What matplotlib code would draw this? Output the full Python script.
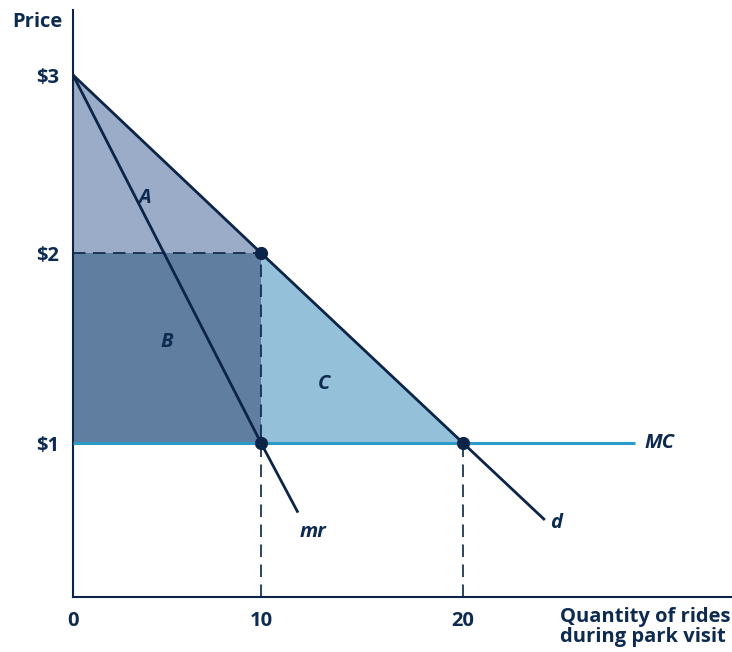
import matplotlib

matplotlib.use("Agg")
import numpy as np
import matplotlib.pyplot as plt

# data
quantity_ticks = [0, 10, 20]
price_ticks = [1, 2, 3]
price_labels = ["$1", "$2", "$3"]

demand_q = [0, 10, 20, 24]
demand_p = [3, 2, 1, 0.6]
mr_q = [0, 10, 11.8]
mr_p = [3, 1, 0.64]
mc_q = [0, 28.5]
mc_p = [1, 1]

area_a_q = [0, 0, 10]
area_a_p = [3, 2, 2]
area_b_q = [0, 10, 10, 0]
area_b_p = [2, 2, 1, 1]
area_c_q = [10, 10, 20]
area_c_p = [2, 1, 1]

dots_q = [10, 10, 20]
dots_p = [2, 1, 1]

NAVY = "#0b2447"
TEXT = "#0d2a50"
FONT = "Open Sans"
FS = 14.5

# the drawing is not evenly spaced, so use a piecewise linear scale
x_knots = np.array([0.0, 10.0, 20.0])
x_pix = np.array([73.0, 261.0, 463.0])
y_knots = np.array([1.0, 2.0, 3.0])
y_pix = np.array([209.0, 399.0, 577.0])


def piecewise(knots, pix):
    lo_slope = (pix[1] - pix[0]) / (knots[1] - knots[0])
    hi_slope = (pix[-1] - pix[-2]) / (knots[-1] - knots[-2])

    def forward(v):
        v = np.asarray(v, dtype=float)
        out = np.interp(v, knots, pix)
        out = np.where(v < knots[0], pix[0] + (v - knots[0]) * lo_slope, out)
        out = np.where(v > knots[-1], pix[-1] + (v - knots[-1]) * hi_slope, out)
        return out

    def inverse(p):
        p = np.asarray(p, dtype=float)
        out = np.interp(p, pix, knots)
        out = np.where(p < pix[0], knots[0] + (p - pix[0]) / lo_slope, out)
        out = np.where(p > pix[-1], knots[-1] + (p - pix[-1]) / hi_slope, out)
        return out

    return forward, inverse


W, H = 732, 652
fig = plt.figure(figsize=(W / 100, H / 100), dpi=100)
left, right, bottom, top = 73, 731, H - 597, H - 10
ax = fig.add_axes([left / W, bottom / H, (right - left) / W, (top - bottom) / H])

ax.set_xscale("function", functions=piecewise(x_knots, x_pix))
ax.set_yscale("function", functions=piecewise(y_knots, y_pix))
fx_inv = piecewise(x_knots, x_pix)[1]
fy_inv = piecewise(y_knots, y_pix)[1]
ax.set_xlim(0, float(fx_inv(right)))
ax.set_ylim(float(fy_inv(bottom)), float(fy_inv(top)))

# shaded areas
ax.fill(area_a_q, area_a_p, color="#9aacc7", lw=0, zorder=1)
ax.fill(area_b_q, area_b_p, color="#5f7ea0", lw=0, zorder=1)
ax.fill(area_c_q, area_c_p, color="#94c1d9", lw=0, zorder=1)

# dashed guides
dash = (0, (7.5, 4.5))
ax.plot([0, 10], [2, 2], color=NAVY, lw=1.2, linestyle=dash, zorder=2)
ax.plot([10, 10], [ax.get_ylim()[0], 2], color=NAVY, lw=1.2, linestyle=dash, zorder=2)
ax.plot([20, 20], [ax.get_ylim()[0], 1], color=NAVY, lw=1.2, linestyle=dash, zorder=2)

# curves
ax.plot(mc_q, mc_p, color="#2b9cc8", lw=2.2, zorder=3, solid_capstyle="butt")
ax.plot(demand_q, demand_p, color=NAVY, lw=2.0, zorder=4)
ax.plot(mr_q, mr_p, color=NAVY, lw=2.0, zorder=4)
ax.plot(dots_q, dots_p, "o", color=NAVY, ms=8.5, zorder=5)

# labels inside the chart
lab = dict(color=TEXT, fontsize=FS, fontweight="bold", style="italic", family=FONT)
ax.text(3.83, 2.31, "A", ha="center", va="center", **lab)
ax.text(5.0, 1.53, "B", ha="center", va="center", **lab)
ax.text(13.1, 1.31, "C", ha="center", va="center", **lab)
ax.text(29.0, 1.0, "MC", ha="left", va="center", **lab)
ax.text(12.56, 0.53, "mr", ha="center", va="center", **lab)
ax.text(24.6, 0.58, "d", ha="center", va="center", **lab)

# axes
for side in ["top", "right"]:
    ax.spines[side].set_visible(False)
for side in ["left", "bottom"]:
    ax.spines[side].set_color(NAVY)
    ax.spines[side].set_linewidth(1.5)

ax.set_xticks(quantity_ticks)
ax.set_xticklabels([str(q) for q in quantity_ticks])
ax.set_yticks(price_ticks)
ax.set_yticklabels(price_labels)
ax.tick_params(length=0)
ax.tick_params(axis="x", pad=10)
ax.tick_params(axis="y", pad=10)
for t in ax.get_xticklabels() + ax.get_yticklabels():
    t.set_fontsize(FS)
    t.set_fontweight("bold")
    t.set_family(FONT)
    t.set_color(TEXT)

fig.text(62 / W, 1 - 22 / H, "Price", ha="right", va="center", color=TEXT,
         fontsize=FS, fontweight="bold", family=FONT)
fig.text(730 / W, 1 - 627 / H, "Quantity of rides\nduring park visit", ha="right",
         va="center", color=TEXT, fontsize=FS, fontweight="bold", family=FONT,
         linespacing=0.95, multialignment="left")

fig.savefig("out.png", dpi=100)
